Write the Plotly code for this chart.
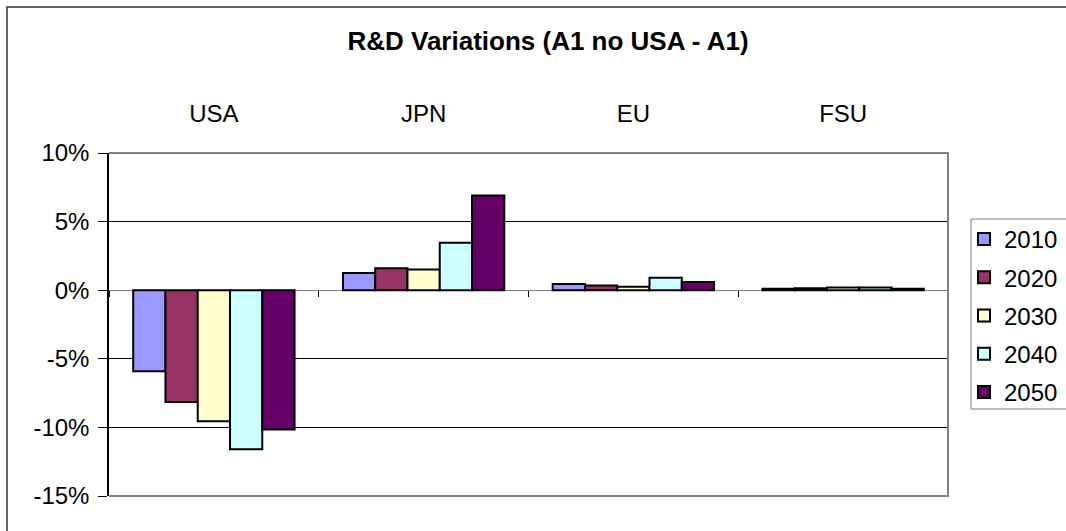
"""
R&D variations bar chart, Excel look
"""

import plotly.graph_objects as go

# data (percent change, A1 no USA - A1)
regions = ['USA', 'JPN', 'EU', 'FSU']
years = ['2010', '2020', '2030', '2040', '2050']
v2010 = [-5.9, 1.25, 0.45, 0.1]
v2020 = [-8.15, 1.6, 0.35, 0.15]
v2030 = [-9.55, 1.5, 0.25, 0.2]
v2040 = [-11.6, 3.45, 0.9, 0.2]
v2050 = [-10.15, 6.9, 0.6, 0.1]
series = [v2010, v2020, v2030, v2040, v2050]
colors = ['#9999FF', '#993366', '#FFFFCC', '#CCFFFF', '#660066']

ytick_vals = [-0.15, -0.10, -0.05, 0, 0.05, 0.10]
ytick_text = ['-15%', '-10%', '-5%', '0%', '5%', '10%']

FONT = 'Arial, Liberation Sans, sans-serif'

# plot area in pixels (Excel layout)
L, R, T, B = 109, 948, 153, 496
PW, PH = R - L, B - T

fig = go.Figure()

for year, vals, col in zip(years, series, colors):
    fig.add_trace(go.Bar(
        x=regions,
        y=[v / 100 for v in vals],
        name=year,
        legendgroup=year,
        marker=dict(color=col, line=dict(color='black', width=2)),
    ))

# invisible trace so the tick-mark axis at the zero line gets drawn
fig.add_trace(go.Scatter(
    x=regions, y=[None] * len(regions), xaxis='x2',
    mode='markers', showlegend=False, hoverinfo='skip'
))

fig.update_layout(
    width=1066, height=531,
    margin=dict(l=L, r=1066 - R, t=T, b=531 - B),
    paper_bgcolor='white',
    plot_bgcolor='white',
    font=dict(family=FONT, size=24, color='black'),
    title=dict(
        text='<b>R&D Variations (A1 no USA - A1)</b>',
        x=548 / 1066, xanchor='center',
        y=1 - 41 / 531, yanchor='middle',
        font=dict(family=FONT, size=26, color='black')
    ),
    barmode='group',
    bargap=0.2308,
    bargroupgap=0,
    showlegend=True,
    legend=dict(
        xref='container',
        x=964 / 1066, xanchor='left',
        y=(B - 217) / PH, yanchor='top',
        borderwidth=0,
        bgcolor='rgba(0,0,0,0)',
        font=dict(family=FONT, size=24),
        tracegroupgap=4,
        itemwidth=30,
    ),
    xaxis=dict(
        type='category',
        categoryorder='array', categoryarray=regions,
        range=[-0.5, 3.5],
        side='top',
        ticks='',
        showline=False,
        showgrid=False,
        ticklabelstandoff=25,
    ),
    xaxis2=dict(
        type='category',
        categoryorder='array', categoryarray=regions,
        range=[-0.5, 3.5],
        overlaying='x',
        anchor='free',
        position=0.6,
        tickson='boundaries',
        ticks='outside', ticklen=6, tickcolor='black', tickwidth=1,
        showticklabels=False,
        showline=False,
        showgrid=False,
    ),
    yaxis=dict(
        range=[-0.15, 0.10],
        tickvals=ytick_vals,
        ticktext=ytick_text,
        ticks='outside', ticklen=9, tickcolor='black', tickwidth=1,
        showline=True, linecolor='black', linewidth=1.5,
        showgrid=True, gridcolor='black', gridwidth=1,
        zeroline=True, zerolinecolor='#808080', zerolinewidth=1,
        ticklabelstandoff=4,
    ),
)

# plot area border (top, right, bottom) in gray
fig.add_shape(type='path', xref='paper', yref='paper',
              path='M0,1 L1,1 L1,0 L0,0',
              line=dict(color='#808080', width=2), layer='above')

# legend frame
fig.add_shape(type='rect', xref='paper', yref='paper',
              x0=(971 - L) / PW, x1=(1080 - L) / PW,
              y0=(B - 409) / PH, y1=(B - 219) / PH,
              line=dict(color='#808080', width=1), layer='below')

# outer chart border
fig.add_shape(type='rect', xref='paper', yref='paper',
              x0=(7 - L) / PW, x1=(1075 - L) / PW,
              y0=(B - 540) / PH, y1=(B - 7) / PH,
              line=dict(color='#333333', width=1.5), layer='below')

fig.write_html("out.html", config={'displayModeBar': False},
               post_script="document.body.style.margin='0';")
